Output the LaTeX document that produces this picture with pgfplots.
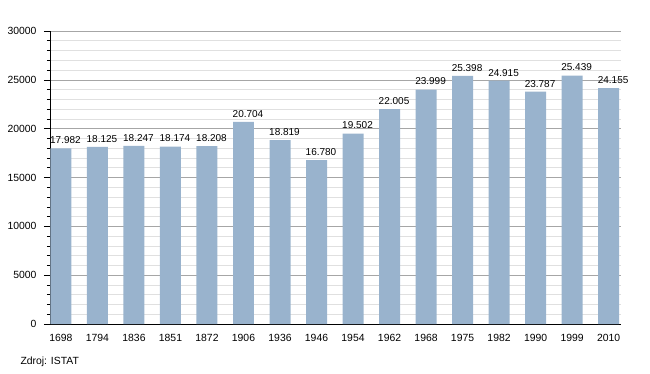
\documentclass[border=0pt]{standalone}
\usepackage{pgfplots}
\pgfplotsset{compat=1.18}
\usepackage{fontspec}
\setmainfont{Liberation Sans}
\definecolor{barblue}{RGB}{153,179,205}
\begin{document}
\begin{tikzpicture}[x=1pt,y=1pt]
\useasboundingbox (0,0) rectangle (650,373);
\begin{axis}[at={(50pt,49pt)}, anchor=south west, scale only axis,
  width=571pt, height=293pt,
  ymin=0, ymax=30000, xmin=-0.3, xmax=15.34,
  ybar, bar width=0.575, bar shift=0pt,
  ytick={0,5000,...,30000}, minor y tick num=4,
  scaled y ticks=false,
  ymajorgrids, yminorgrids,
  major grid style={color=black!35, line width=0.6pt},
  minor grid style={color=black!12, line width=0.6pt},
  axis lines*=left,
  axis line style={black, line width=0.8pt},
  xtick=data,
  xticklabels={1698,1794,1836,1851,1872,1906,1936,1946,1954,1962,1968,1975,1982,1990,1999,2010},
  x tick style={draw=none},
  y tick style={black, line width=0.6pt},
  tick align=outside, major tick length=6pt, minor tick length=3pt,
  /pgf/number format/assume math mode=true,
  tick label style={font=\fontsize{10.4}{12}\selectfont},
  yticklabel style={/pgf/number format/1000 sep={}, xshift=-4pt},
  xticklabel style={yshift=-1pt},
  nodes near coords,
  every node near coord/.append style={font=\fontsize{10}{12}\selectfont, /pgf/number format/1000 sep={.}, yshift=1pt, xshift=4.5pt},
  clip=false,
]
\addplot[fill=barblue, draw=none] coordinates {
(0,17982) (1,18125) (2,18247) (3,18174) (4,18208) (5,20704) (6,18819) (7,16780)
(8,19502) (9,22005) (10,23999) (11,25398) (12,24915) (13,23787) (14,25439) (15,24155)};
\end{axis}
\node[anchor=west, font=\fontsize{10.4}{12}\selectfont] at (17,11) {Zdroj: ISTAT};
\end{tikzpicture}
\end{document}
